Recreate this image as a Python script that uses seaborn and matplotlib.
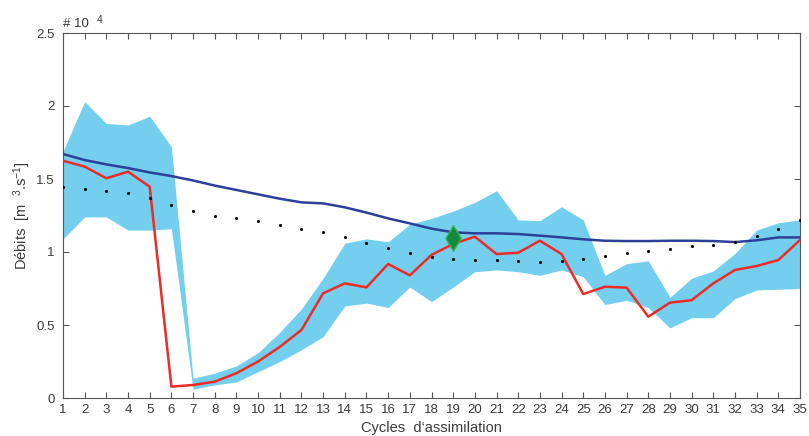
import matplotlib
matplotlib.use("Agg")
import matplotlib.pyplot as plt
import seaborn as sns
import pandas as pd

# Cycles d'assimilation (x axis)
cycles = [1, 2, 3, 4, 5, 6, 7, 8, 9, 10, 11, 12, 13, 14, 15, 16, 17, 18,
          19, 20, 21, 22, 23, 24, 25, 26, 27, 28, 29, 30, 31, 32, 33, 34, 35]

# discharge values, in units of 10^4 m3/s
ens_upper = [1.69, 2.03, 1.88, 1.87, 1.93, 1.72, 0.135, 0.17, 0.22, 0.31, 0.45, 0.61,
             0.82, 1.06, 1.09, 1.07, 1.19, 1.23, 1.28, 1.34, 1.42, 1.22, 1.215, 1.31,
             1.22, 0.84, 0.92, 0.94, 0.69, 0.82, 0.87, 0.99, 1.15, 1.20, 1.22]
ens_lower = [1.09, 1.24, 1.24, 1.15, 1.15, 1.16, 0.06, 0.09, 0.11, 0.18, 0.25, 0.33,
             0.42, 0.63, 0.65, 0.62, 0.76, 0.66, 0.76, 0.865, 0.877, 0.865, 0.84, 0.877,
             0.83, 0.64, 0.67, 0.62, 0.48, 0.55, 0.55, 0.68, 0.74, 0.745, 0.75]
analyse = [1.625, 1.585, 1.505, 1.55, 1.447, 0.078, 0.089, 0.112, 0.17, 0.25, 0.35, 0.466,
           0.717, 0.785, 0.758, 0.918, 0.84, 0.98, 1.055, 1.105, 0.986, 0.995, 1.077, 0.986,
           0.712, 0.762, 0.756, 0.557, 0.653, 0.67, 0.785, 0.877, 0.904, 0.945, 1.082]
ebauche = [1.671, 1.63, 1.60, 1.575, 1.545, 1.52, 1.49, 1.455, 1.425, 1.395, 1.365, 1.34,
           1.333, 1.306, 1.27, 1.23, 1.196, 1.16, 1.135, 1.128, 1.128, 1.123, 1.112, 1.10,
           1.087, 1.077, 1.075, 1.075, 1.077, 1.077, 1.075, 1.068, 1.08, 1.10, 1.10]
observe = [1.447, 1.432, 1.416, 1.406, 1.372, 1.32, 1.283, 1.249, 1.23, 1.21, 1.185, 1.16,
           1.135, 1.10, 1.064, 1.025, 0.99, 0.964, 0.952, 0.945, 0.943, 0.938, 0.933, 0.94,
           0.95, 0.976, 0.99, 1.006, 1.02, 1.04, 1.05, 1.07, 1.11, 1.16, 1.22]
marker_cycle = [19]
marker_value = [1.094]

yticks = [0, 0.5, 1, 1.5, 2, 2.5]
ytick_labels = ["0", "0.5", "1", "1.5", "2", "2.5"]

df = pd.DataFrame({"cycle": cycles, "analyse": analyse,
                   "ebauche": ebauche, "observe": observe})
df_mark = pd.DataFrame({"cycle": marker_cycle, "value": marker_value})

sns.set_theme(style="ticks")
plt.rcParams["font.family"] = ["Liberation Sans", "DejaVu Sans"]
plt.rcParams["mathtext.fontset"] = "custom"
plt.rcParams["mathtext.rm"] = "Liberation Sans"
plt.rcParams["mathtext.it"] = "Liberation Sans"

text_col = "#3a3a3a"
W, H = 809, 436
fig = plt.figure(figsize=(W / 100, H / 100), dpi=100)
ax = fig.add_axes([63 / W, 1 - 398 / H, (800 - 63) / W, (398 - 33) / H])

# ensemble envelope
ax.fill_between(cycles, ens_lower, ens_upper, color="#74CEEE", linewidth=0, zorder=1)

sns.lineplot(data=df, x="cycle", y="ebauche", color="#2E3F9A", linewidth=1.8, ax=ax, zorder=3)
sns.lineplot(data=df, x="cycle", y="analyse", color="#EE2A26", linewidth=1.8, ax=ax, zorder=4)
sns.scatterplot(data=df, x="cycle", y="observe", color="black", s=5, linewidth=0,
                ax=ax, zorder=5)
sns.scatterplot(data=df_mark, x="cycle", y="value", marker="d", s=170, color="#138A3E",
                edgecolor="#3DB54A", linewidth=1.0, ax=ax, zorder=6)

ax.set_xlim(1, 35)
ax.set_ylim(0, 2.5)
ax.set_xticks(cycles)
ax.set_xticklabels([str(c) for c in cycles])
ax.set_yticks(yticks)
ax.set_yticklabels(ytick_labels)

ax.tick_params(direction="in", top=True, right=True, length=4, width=0.8,
               color="#555555", labelcolor=text_col, labelsize=9.5)
ax.tick_params(axis="x", pad=4)
ax.tick_params(axis="y", pad=6)
for sp in ax.spines.values():
    sp.set_visible(True)
    sp.set_color("#555555")
    sp.set_linewidth(0.8)

ax.set_xlabel("Cycles  d\u2018assimilation", fontsize=10.5, color=text_col, labelpad=4)
ax.set_ylabel(r"Débits  [m  $^{3}$.s$^{-1}$]", fontsize=10.5, color=text_col, labelpad=2)

ax.text(0.0, 1.008, "# 10", transform=ax.transAxes, ha="left", va="bottom",
        fontsize=9.5, color=text_col)
ax.text(0.046, 1.022, "4", transform=ax.transAxes, ha="left", va="bottom",
        fontsize=7.5, color=text_col)

fig.savefig("out.png", dpi=100)
